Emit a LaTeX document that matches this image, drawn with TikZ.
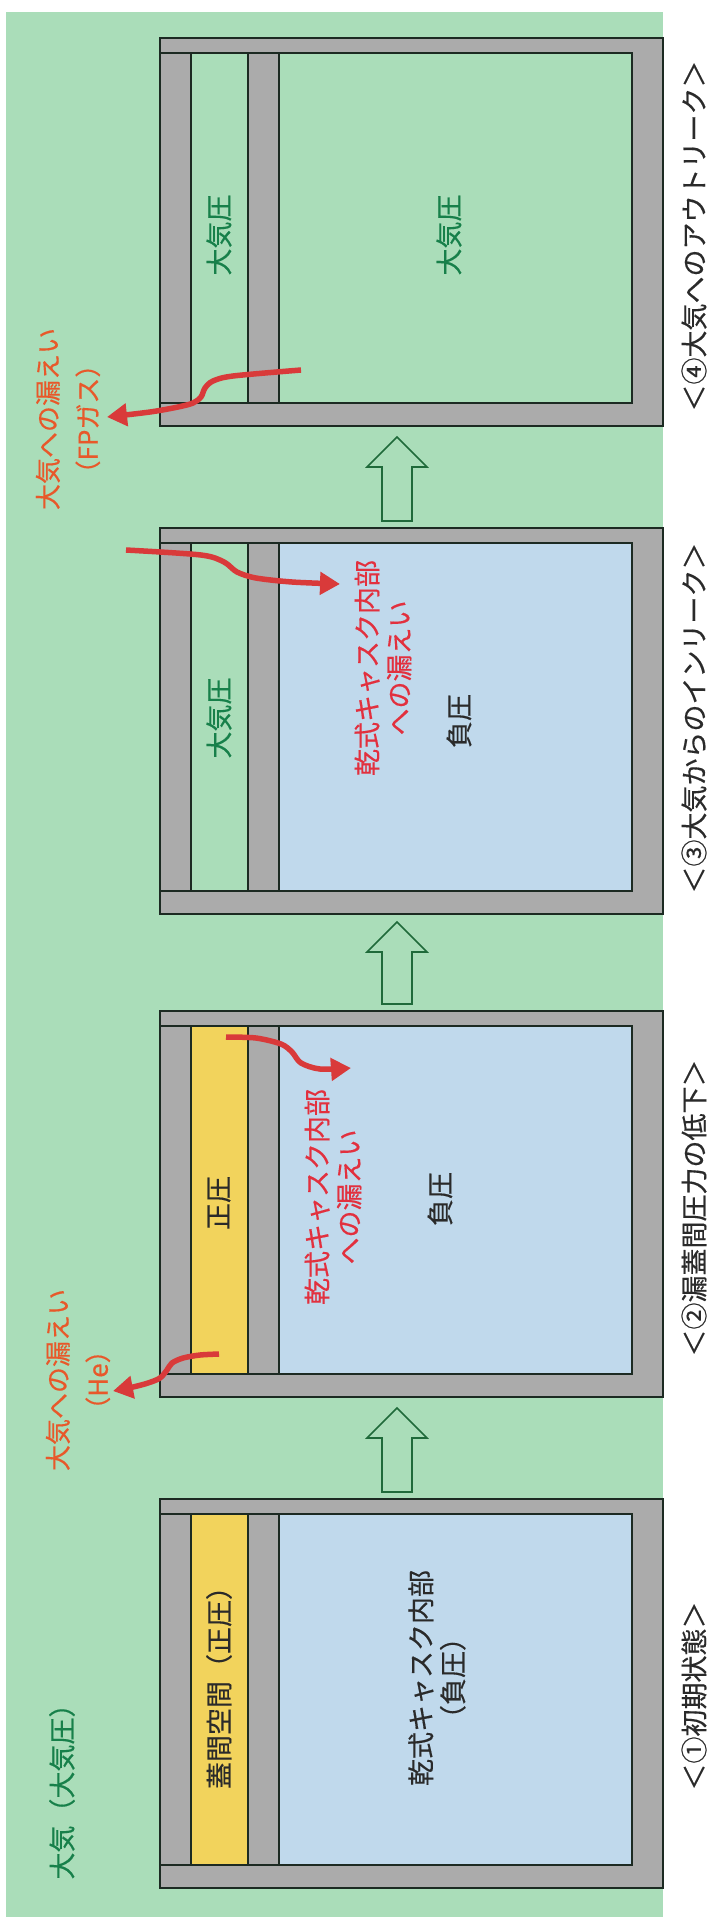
\documentclass[tikz,border=0pt]{standalone}
\usepackage{fontspec}
\setmainfont{Noto Sans CJK JP}[FakeBold=0.4]
\usetikzlibrary{arrows.meta}
\definecolor{bg}{HTML}{AADDB9}
\definecolor{wallgray}{HTML}{ABABAB}
\definecolor{chblue}{HTML}{C0D9EC}
\definecolor{lidyel}{HTML}{F2D35C}
\definecolor{lineDk}{HTML}{1C2A22}
\definecolor{leakred}{HTML}{D93A3A}
\definecolor{txtorange}{HTML}{E8582A}
\definecolor{txtred}{HTML}{E2303E}
\definecolor{txtgreen}{HTML}{17804A}
\definecolor{txtdark}{HTML}{2A2A2A}
\definecolor{arrgreen}{HTML}{1F6A3A}
\tikzset{
  boxline/.style={draw=lineDk, line width=1.8pt},
  leak/.style={draw=leakred, line width=5.5pt, -{Triangle[length=20pt,width=22pt]}},
  hollow/.style={draw=arrgreen, fill=bg, line width=1.6pt, line join=miter},
  lbl/.style={rotate=90, inner sep=0pt, align=center, font=\fontsize{27}{32}\selectfont},
  capt/.style={rotate=90, inner sep=0pt, font=\fontsize{27}{32}\selectfont, text=txtdark},
}
\begin{document}
\begin{tikzpicture}[x=1pt,y=-1pt]
\useasboundingbox (0,0) rectangle (715,1922);
\fill[white] (0,0) rectangle (715,1922);
\fill[bg] (6,12) rectangle (663,1917);

% casks
\foreach \T/\B/\L/\C in {38/426/bg/bg, 528/914/bg/chblue, 1011/1397/lidyel/chblue, 1499/1888/lidyel/chblue}{
  \fill[wallgray] (160,\T) rectangle (663,\B);
  \fill[\L] (191,\T+15) rectangle (248,\B-23);
  \fill[\C] (279,\T+15) rectangle (632,\B-23);
  \draw[boxline] (160,\T) rectangle (663,\B);
  \draw[boxline] (160,\T+15) -- (632,\T+15) -- (632,\B-23) -- (160,\B-23);
  \draw[boxline] (191,\T+15) -- (191,\B-23) (248,\T+15) -- (248,\B-23) (279,\T+15) -- (279,\B-23);
}

% hollow arrows between states
\foreach \tip/\en in {437/521, 922/1004, 1408/1492}{
  \draw[hollow] (397,\tip) -- (427,\tip+30) -- (412,\tip+30) -- (412,\en) -- (382,\en) -- (382,\tip+30) -- (367,\tip+30) -- cycle;
}

% leak arrows
\draw[leak] plot[smooth, tension=0.5] coordinates {(301,370) (233,376) (213,381) (205,388) (201,397) (193,403) (178,407) (150,412) (107,417)};
\draw[leak] plot[smooth, tension=0.5] coordinates {(126,550) (201,555) (224,562) (237,572) (256,578) (292,582) (340,584)};
\draw[leak] plot[smooth, tension=0.5] coordinates {(219,1354) (200,1355) (183,1358) (172,1363) (167,1370) (160,1378) (148,1383) (133,1387) (113,1391)};
\draw[leak] plot[smooth, tension=0.5] coordinates {(226,1037) (256,1038) (281,1044) (292,1052) (301,1063) (320,1069) (351,1068)};

% texts
\node[lbl, text=txtgreen] (atm) at (62,1785) {大気（大気圧）};
\node[lbl, text=txtdark] (lid1) at (219,1681) {蓋間空間（正圧）};
\node[lbl, text=txtdark] (in1) at (437,1678) {乾式キャスク内部\\（負圧）};

\node[lbl, text=txtdark] (lid2) at (219,1203) {正圧};
\node[lbl, text=txtred] (lk2) at (333,1197) {乾式キャスク内部\\への漏えい};
\node[lbl, text=txtdark] (in2) at (440,1199) {負圧};
\node[lbl, text=txtorange, font=\fontsize{26}{40}\selectfont] (he) at (78,1380) {大気への漏えい\\（He）};

\node[lbl, text=txtgreen] (lid3) at (219,718) {大気圧};
\node[lbl, text=txtred] (lk3) at (383,668) {乾式キャスク内部\\への漏えい};
\node[lbl, text=txtdark] (in3) at (459,721) {負圧};
\node[lbl, text=txtorange, font=\fontsize{26}{40}\selectfont] (fp) at (68,419) {大気への漏えい\\（FPガス）};

\node[lbl, text=txtgreen] (lid4) at (219,235) {大気圧};
\node[lbl, text=txtgreen] (in4) at (449,235) {大気圧};

% captions
\node[capt] (c4) at (694,236) {＜④大気へのアウトリーク＞};
\node[capt] (c3) at (694,718) {＜③大気からのインリーク＞};
\node[capt] (c2) at (694,1208) {＜②漏蓋間圧力の低下＞};
\node[capt] (c1) at (694,1696) {＜①初期状態＞};
\end{tikzpicture}
\end{document}
